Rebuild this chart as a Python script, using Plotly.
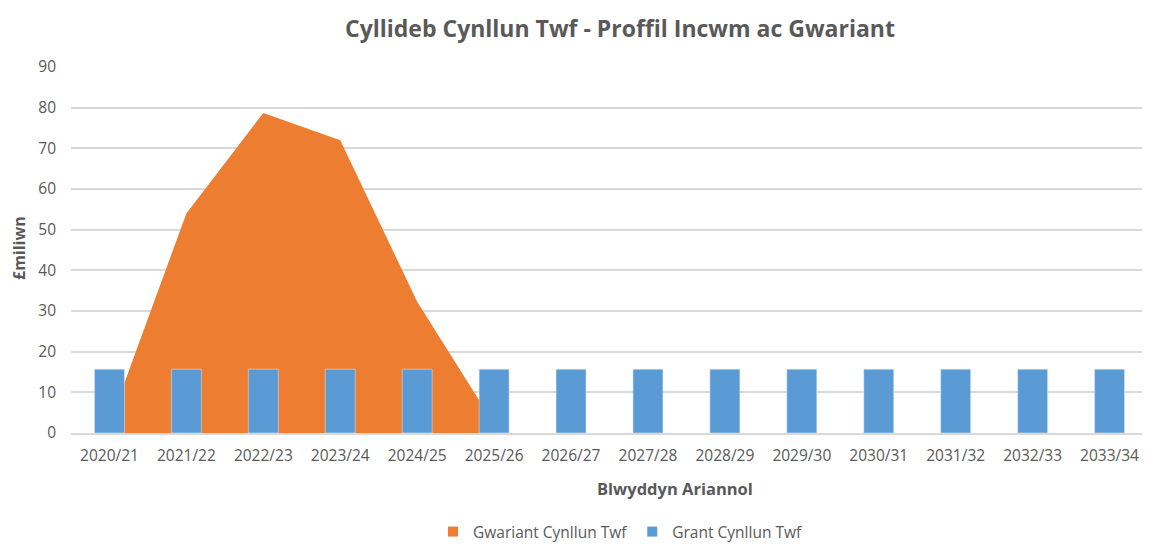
import plotly.graph_objects as go

categories = ["2020/21", "2021/22", "2022/23", "2023/24", "2024/25", "2025/26", "2026/27",
              "2027/28", "2028/29", "2029/30", "2030/31", "2031/32", "2032/33", "2033/34"]
gwariant = [2.3, 54.0, 78.7, 72.0, 32.3, 2.2]
grant = [15.7] * 14

FONT = "Open Sans"
GREY = "#595959"
ORANGE = "#ED7D31"
BLUE = "#5B9BD5"

fig = go.Figure()
fig.add_trace(go.Scatter(
    x=categories[:len(gwariant)], y=gwariant, name="Gwariant Cynllun Twf",
    mode="none", fill="tozeroy", fillcolor=ORANGE, xaxis="x", yaxis="y",
    showlegend=False, hoverinfo="x+y"))
fig.add_trace(go.Bar(
    x=categories, y=grant, name="Grant Cynllun Twf", marker_color=BLUE,
    xaxis="x2", yaxis="y2", showlegend=False))
# legend entries
fig.add_trace(go.Scatter(x=[None], y=[None], mode="markers", name="Gwariant Cynllun Twf",
                         marker=dict(symbol="square", size=10, color=ORANGE)))
fig.add_trace(go.Scatter(x=[None], y=[None], mode="markers", name="Grant Cynllun Twf",
                         marker=dict(symbol="square", size=10, color=BLUE)))

# page body has an 8px margin: figure drawn 8px right/down
W, H = 1142, 537
L, R, T, B = 63, 2, 59, 112
PW, PH = W - L - R, H - T - B

fig.update_layout(
    width=W, height=H,
    margin=dict(l=L, r=R, t=T, b=B, autoexpand=False),
    plot_bgcolor="white", paper_bgcolor="white",
    font=dict(family=FONT, color=GREY, size=15.5),
    bargap=0.61,
    showlegend=True,
    legend=dict(orientation="h", x=(612 - L) / PW, xanchor="center",
                y=-(524 - (T + PH)) / PH, yanchor="middle",
                font=dict(size=15.5, color=GREY), traceorder="normal", itemwidth=30),
    xaxis=dict(type="category", categoryorder="array", categoryarray=categories,
               range=[-0.5, 13.5], showgrid=False, showline=True, linecolor="#d9d9d9",
               linewidth=1.5, ticks="", ticklabelstandoff=8,
               tickfont=dict(size=15.5, color=GREY)),
    yaxis=dict(range=[0, 90], dtick=10, showgrid=True, gridcolor="#d9d9d9", gridwidth=1.5,
               zeroline=False, ticks="", ticklabelstandoff=14,
               tickfont=dict(size=15.5, color=GREY)),
    xaxis2=dict(type="category", categoryorder="array", categoryarray=categories,
                range=[-0.5, 13.5], overlaying="x", showgrid=False, showticklabels=False,
                showline=False, ticks=""),
    yaxis2=dict(range=[0, 90], overlaying="y", showgrid=False, showticklabels=False,
                zeroline=False, ticks=""),
    annotations=[
        dict(text="<b>Cyllideb Cynllun Twf - Proffil Incwm ac Gwariant</b>", xref="paper",
             yref="paper", x=(611.5 - L) / PW, y=(T + PH - 20) / PH,
             xanchor="center", yanchor="middle", showarrow=False,
             font=dict(size=23, color=GREY, family=FONT)),
        dict(text="<b>Blwyddyn Ariannol</b>", xref="paper", yref="paper",
             x=(667 - L) / PW, y=-(480 - (T + PH)) / PH, xanchor="center", yanchor="middle",
             showarrow=False, font=dict(size=16.5, color=GREY, family=FONT)),
        dict(text="<b>£miliwn</b>", xref="paper", yref="paper", x=-(L - 11) / PW,
             y=(T + PH - 240) / PH, xanchor="center", yanchor="middle", textangle=-90,
             showarrow=False, font=dict(size=16, color=GREY, family=FONT)),
    ],
)

fig.write_html("out.html")
